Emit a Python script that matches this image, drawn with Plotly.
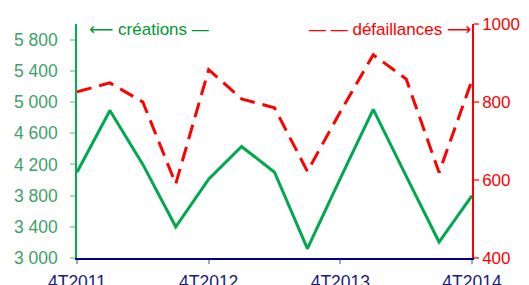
import plotly.graph_objects as go

quarters = ["4T2011", "1T2012", "2T2012", "3T2012", "4T2012", "1T2013", "2T2013",
            "3T2013", "4T2013", "1T2014", "2T2014", "3T2014", "4T2014"]
creations = [4100, 4890, 4200, 3400, 4010, 4430, 4100, 3120, 4020, 4905, 4050, 3205, 3800]
defaillances = [826, 849, 800, 590, 883, 808, 785, 622, 775, 921, 859, 619, 856]

left_ticks = [3000, 3400, 3800, 4200, 4600, 5000, 5400, 5800]
right_ticks = [400, 600, 800, 1000]
x_ticks = ["4T2011", "4T2012", "4T2013", "4T2014"]

FONT = "Liberation Sans, Arial, sans-serif"
W, H = 529, 285
OFF = 8  # default page margin of the html body
PX0, PX1, PY0, PY1 = 77, 472, 24, 258  # plot area in window pixels
L, T = PX0 - OFF, PY0 - OFF
PW, PH = PX1 - PX0, PY1 - PY0
R, B = W - L - PW, H - T - PH

fig = go.Figure()
fig.add_trace(go.Scatter(x=quarters, y=creations, mode="lines",
                         line=dict(color="#00a84f", width=3), yaxis="y",
                         showlegend=False, hoverinfo="skip"))
fig.add_trace(go.Scatter(x=quarters, y=defaillances, mode="lines",
                         line=dict(color="#ff0000", width=3, dash="15px,8px"), yaxis="y2",
                         showlegend=False, hoverinfo="skip"))

fig.update_layout(
    width=W, height=H,
    margin=dict(l=L, r=R, t=T, b=B, pad=0, autoexpand=False),
    paper_bgcolor="white", plot_bgcolor="white",
    separators=", ",
    font=dict(family=FONT, size=17.5),
    xaxis=dict(type="category", categoryorder="array", categoryarray=quarters,
               range=[0, len(quarters) - 1], tickvals=x_ticks, ticktext=x_ticks,
               automargin=False,
               showgrid=False, zeroline=False, showline=True, linecolor="#000080", linewidth=1.5,
               ticks="outside", ticklen=4, tickcolor="#9fa3d8", tickwidth=1.5,
               tickfont=dict(color="#1a1a80", size=17.5, family=FONT),
               ticklabelstandoff=3),
    yaxis=dict(range=[3000, 6000], tickvals=left_ticks, tickformat=",d", automargin=False,
               showgrid=False, zeroline=False, showline=True, linecolor="#00b050", linewidth=1.5,
               ticks="outside", ticklen=5, tickcolor="#a8dcb8", tickwidth=1.5,
               tickfont=dict(color="#3fa06a", size=17.5, family=FONT),
               ticklabelstandoff=9),
    yaxis2=dict(range=[400, 1000], tickvals=right_ticks, tickformat="d", automargin=False,
                overlaying="y", side="right",
                showgrid=False, zeroline=False, showline=True, linecolor="#ff0000", linewidth=1.5,
                ticks="outside", ticklen=5, tickcolor="#ff6060", tickwidth=1.5,
                tickfont=dict(color="#ff0000", size=17, family=FONT),
                ticklabelstandoff=0),
)

def px_x(x):
    return (x - PX0) / PW

def px_y(y):
    return (PY1 - y) / PH

ARROW = "font-family:'DejaVu Sans';"
fig.add_annotation(text=f"<span style=\"{ARROW}\">\u27f5</span> créations \u2014",
                   xref="paper", yref="paper",
                   x=px_x(87), y=px_y(29), xanchor="left", yanchor="middle",
                   showarrow=False, font=dict(color="#009933", size=17, family=FONT))
fig.add_annotation(text=f"\u2014 \u2014 défaillances <span style=\"{ARROW}\">\u27f6</span>",
                   xref="paper", yref="paper",
                   x=px_x(473), y=px_y(29), xanchor="right", yanchor="middle",
                   showarrow=False, font=dict(color="#ff0000", size=17, family=FONT))

fig.write_html("out.html")
